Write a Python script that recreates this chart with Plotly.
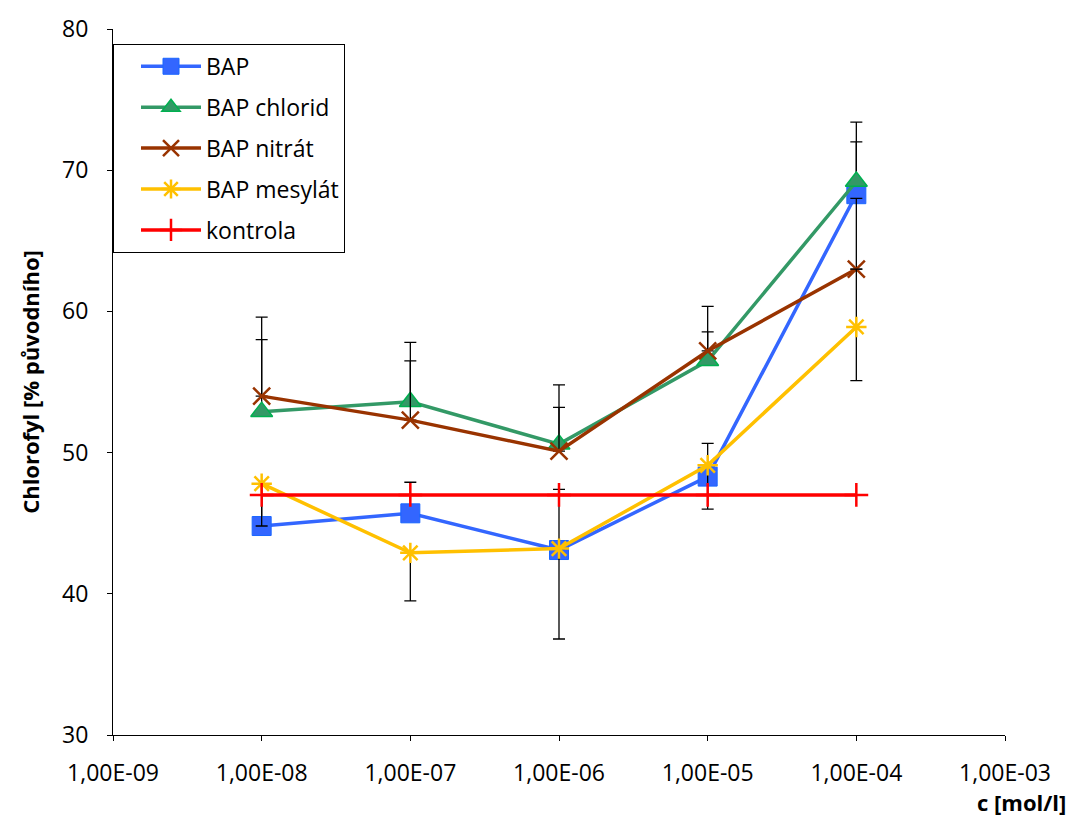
import plotly.graph_objects as go

# Concentrations (mol/l) and tick labels
conc = [1e-8, 1e-7, 1e-6, 1e-5, 1e-4]
tick_vals = [1e-9, 1e-8, 1e-7, 1e-6, 1e-5, 1e-4, 1e-3]
tick_text = ["1,00E-09", "1,00E-08", "1,00E-07", "1,00E-06", "1,00E-05", "1,00E-04", "1,00E-03"]

# Chlorophyll content (% of original)
bap = [44.8, 45.7, 43.1, 48.3, 68.3]
bap_chlorid = [52.9, 53.6, 50.6, 56.5, 69.2]
bap_nitrat = [54.0, 52.3, 50.1, 57.2, 63.0]
bap_mesylat = [47.8, 42.9, 43.2, 49.1, 58.9]
kontrola = [47.0, 47.0, 47.0, 47.0, 47.0]

# Error bars (plus / minus parts)
bap_err_plus = [3.0, 2.2, 4.3, 2.35, 3.7]
chlorid_err_plus = [5.1, 4.2, 4.2, 3.85, 4.2]
nitrat_err_plus = [5.6, 4.2, 3.1, 1.35, 5.0]
mesylat_err_plus = [0.0, 0.0, 0.0, 0.0, 4.1]
mesylat_err_minus = [3.0, 3.4, 6.4, 3.1, 3.8]

FONT = "Open Sans, sans-serif"
FS = 23

fig = go.Figure()


def err(plus, minus=None):
    return dict(type="data", symmetric=False, array=plus,
                arrayminus=minus if minus is not None else [0] * len(plus),
                color="black", thickness=1.3, width=6)


fig.add_trace(go.Scatter(
    x=conc, y=bap, name="BAP", mode="lines+markers", legendgroup="a",
    line=dict(color="#3366ff", width=3.5),
    marker=dict(symbol="square", size=19, color="#3366ff",
                line=dict(color="#1a66ff", width=1)),
    error_y=err(bap_err_plus)))

fig.add_trace(go.Scatter(
    x=conc, y=bap_chlorid, name="BAP chlorid", mode="lines+markers", legendgroup="b",
    line=dict(color="#339966", width=3.5),
    marker=dict(symbol="triangle-up", size=19, color="#339966",
                line=dict(color="#00b050", width=1.5)),
    error_y=err(chlorid_err_plus)))

fig.add_trace(go.Scatter(
    x=conc, y=bap_nitrat, name="BAP nitrát", mode="lines+markers", legendgroup="c",
    line=dict(color="#993300", width=3.5),
    marker=dict(symbol="x-thin-open", size=17, color="#993300",
                line=dict(color="#993300", width=2.5)),
    error_y=err(nitrat_err_plus)))

fig.add_trace(go.Scatter(
    x=conc, y=bap_mesylat, name="BAP mesylát", mode="lines+markers", legendgroup="d",
    line=dict(color="#ffc000", width=3.5),
    marker=dict(symbol="asterisk-open", size=17, color="#ffc000",
                line=dict(color="#ffc000", width=2.5)),
    error_y=err(mesylat_err_plus, mesylat_err_minus)))

fig.add_trace(go.Scatter(
    x=conc, y=kontrola, name="kontrola", mode="lines+markers", legendgroup="e",
    line=dict(color="#ff0000", width=3.5),
    marker=dict(symbol="cross-thin-open", size=17, color="#ff0000",
                line=dict(color="#ff0000", width=2.5))))

fig.update_layout(
    width=1073, height=818,
    margin=dict(l=113, r=68, t=20, b=83),
    paper_bgcolor="white", plot_bgcolor="white",
    font=dict(family=FONT, size=FS, color="black"),
    showlegend=True,
    legend=dict(x=0, y=0.979, xanchor="left", yanchor="top",
                bordercolor="black", borderwidth=1, bgcolor="white",
                font=dict(family=FONT, size=FS),
                tracegroupgap=8, traceorder="grouped",
                itemwidth=60, indentation=22),
    xaxis=dict(type="log", range=[-9, -3], tickvals=tick_vals, ticktext=tick_text,
               showline=True, linecolor="black", linewidth=1, mirror=False,
               ticks="outside", ticklen=5, tickcolor="black",
               showgrid=False, zeroline=False, ticklabelstandoff=12,
               tickfont=dict(family=FONT, size=FS)),
    yaxis=dict(range=[30, 80], tickvals=[30, 40, 50, 60, 70, 80],
               showline=True, linecolor="black", linewidth=1,
               ticks="outside", ticklen=5, tickcolor="black",
               showgrid=False, zeroline=False, ticklabelstandoff=14,
               tickfont=dict(family=FONT, size=FS),
               title=dict(text="<b>Chlorofyl [% původního]</b>",
                          font=dict(family=FONT, size=FS - 1), standoff=16)),
    annotations=[dict(text="<b>c [mol/l]</b>", xref="paper", yref="paper",
                      x=1.0706, y=-0.095, xanchor="right", yanchor="middle",
                      showarrow=False, font=dict(family=FONT, size=FS - 1))],
)

fig.write_html("out.html")
